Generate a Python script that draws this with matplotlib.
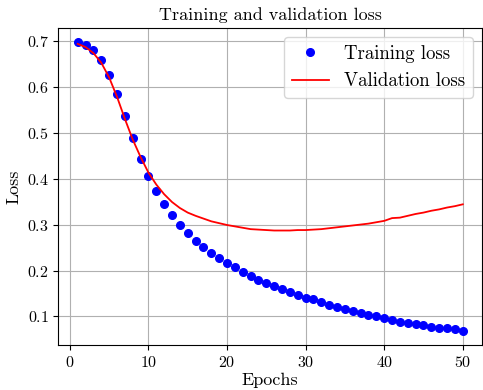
import matplotlib
matplotlib.use("Agg")
import matplotlib.pyplot as plt

plt.rcParams['font.family'] = 'serif'
plt.rcParams['font.serif'] = ['cmr10', 'DejaVu Serif']
plt.rcParams['mathtext.fontset'] = 'cm'
plt.rcParams['axes.formatter.use_mathtext'] = True

epochs = list(range(1, 51))
train_loss = [0.696, 0.690, 0.679, 0.658, 0.625, 0.583, 0.536, 0.488, 0.443, 0.405,
              0.372, 0.345, 0.320, 0.300, 0.282, 0.265, 0.252, 0.239, 0.227, 0.216,
              0.207, 0.197, 0.188, 0.180, 0.173, 0.166, 0.160, 0.153, 0.147, 0.141,
              0.137, 0.131, 0.126, 0.121, 0.117, 0.112, 0.108, 0.104, 0.100, 0.097,
              0.093, 0.089, 0.086, 0.083, 0.081, 0.078, 0.076, 0.074, 0.072, 0.069]
val_loss = [0.693, 0.686, 0.673, 0.652, 0.620, 0.578, 0.530, 0.485, 0.447, 0.413,
            0.387, 0.366, 0.349, 0.336, 0.326, 0.319, 0.313, 0.307, 0.303, 0.299,
            0.296, 0.293, 0.290, 0.289, 0.288, 0.287, 0.287, 0.287, 0.288, 0.288,
            0.289, 0.290, 0.292, 0.294, 0.296, 0.298, 0.300, 0.302, 0.305, 0.308,
            0.314, 0.315, 0.319, 0.323, 0.326, 0.330, 0.333, 0.337, 0.340, 0.344]

fig = plt.figure(figsize=(4.83, 3.9), dpi=100)
ax = fig.add_axes([0.121, 0.115, 0.877, 0.813])

ax.plot(epochs, train_loss, 'bo', markersize=5.5, label='Training loss')
ax.plot(epochs, val_loss, 'r', linewidth=1.3, label='Validation loss')

ax.set_title('Training and validation loss', fontsize=13)
ax.set_xlabel('Epochs', fontsize=13, labelpad=2)
ax.set_ylabel('Loss', fontsize=13)
ax.tick_params(labelsize=11.5)
ax.grid(True)
ax.legend(fontsize=13.5, loc='upper right')

fig.savefig('out.png', dpi=100)
